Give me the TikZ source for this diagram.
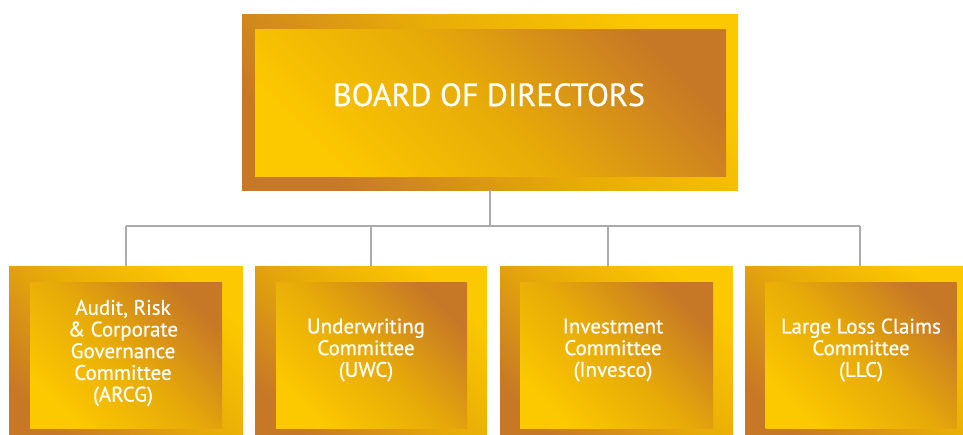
\documentclass[tikz,border=0pt]{standalone}
\usepackage{fontspec}
\setmainfont{PT Sans}
\newfontfamily\semifont{PT Sans}[FakeBold=0.6]
\definecolor{goldY}{HTML}{FCC800}
\definecolor{goldM}{HTML}{E6AA08}
\definecolor{goldO}{HTML}{C77826}
\definecolor{lineG}{HTML}{ABABAB}
\tikzset{
  frame/.style={draw=none, rectangle, inner sep=0pt,
    top color=goldY, bottom color=goldO, middle color=goldM, shading angle=-45},
  panel/.style={draw=none, rectangle, inner sep=0pt,
    top color=goldO, bottom color=goldY, middle color=goldM, shading angle=-45},
  title/.style={text=white, inner sep=0pt, font=\semifont\fontsize{32}{36}\selectfont},
  label/.style={text=white, inner sep=0pt, align=center, font=\semifont\fontsize{21}{21.7}\selectfont},
  link/.style={draw=lineG, line width=1.3pt}
}
\begin{document}
\begin{tikzpicture}[x=1pt, y=-1pt]
\useasboundingbox (0,0) rectangle (963,434);
% connectors
\coordinate (jn) at (490,226);
\coordinate (d1) at (126,226);
\coordinate (d2) at (371,226);
\coordinate (d3) at (608,226);
\coordinate (d4) at (860,226);
% top
\node[frame, minimum width=496pt, minimum height=176pt] (topO) at (490,102) {};
\node[panel, minimum width=471pt, minimum height=147pt] (topI) at (490.5,102.5) {};
\node[title, anchor=base] (topT) at (489,106) {BOARD OF DIRECTORS};
% bottom boxes
\node[frame, minimum width=234pt, minimum height=180pt] (b1O) at (126,356) {};
\node[panel, minimum width=192pt, minimum height=146pt] (b1I) at (126,355) {};
\node[label] (b1T) at (123,353) {Audit, Risk\\\& Corporate\\Governance\\Committee\\(ARCG)};
\node[frame, minimum width=232pt, minimum height=180pt] (b2O) at (371,356) {};
\node[panel, minimum width=191pt, minimum height=146pt] (b2I) at (371.5,355) {};
\node[label] (b2T) at (366,350) {Underwriting\\Committee\\(UWC)};
\node[frame, minimum width=233pt, minimum height=180pt] (b3O) at (616.5,356) {};
\node[panel, minimum width=193pt, minimum height=146pt] (b3I) at (616.5,355) {};
\node[label] (b3T) at (613,350) {Investment\\Committee\\(Invesco)};
\node[frame, minimum width=230pt, minimum height=180pt] (b4O) at (860,356) {};
\node[panel, minimum width=191pt, minimum height=146pt] (b4I) at (861,355) {};
\node[label] (b4T) at (861,350) {Large Loss Claims\\Committee\\(LLC)};
% lines
\draw[link] (topO.south) -- (jn);
\draw[link] (d1) -- (d4);
\draw[link] (d1) -- (b1O.north);
\draw[link] (d2) -- (b2O.north);
\draw[link] (d3) -- (d3 |- b3O.north);
\draw[link] (d4) -- (b4O.north);
\end{tikzpicture}
\end{document}
